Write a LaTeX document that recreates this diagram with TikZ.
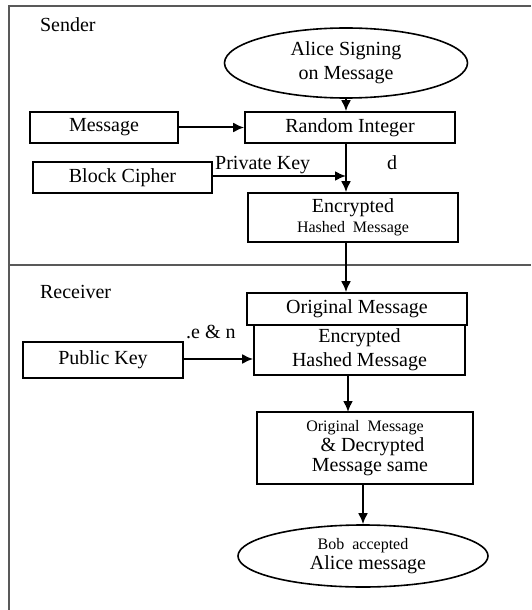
\documentclass[tikz,border=0pt]{standalone}
\usepackage{fontspec}
\setmainfont{Liberation Serif}
\usetikzlibrary{shapes.geometric,arrows.meta}

\begin{document}
\begin{tikzpicture}[x=0.5pt,y=-0.5pt,>={Latex[length=5.5pt,width=5pt]},
    box/.style={draw,line width=0.8pt,inner sep=1pt,align=center,font=\normalsize},
    oval/.style={draw,ellipse,line width=0.8pt,inner sep=0pt,align=center},
    link/.style={->,line width=1pt}]
    \useasboundingbox (0,0) rectangle (531,610);
    % frame and separator
    \draw[line width=1pt,gray!70!black] (531,6) -- (9,6) -- (9,610);
    \draw[line width=0.8pt,gray!70!black] (9,265) -- (531,265);
    \node[anchor=west] (sender) at (33,25) {Sender};
    \node[anchor=west] (receiver) at (33,292) {Receiver};
    % sender side
    \node[oval,minimum width=121.5pt,minimum height=35pt] (alice) at (346,63) {Alice Signing\\on Message};
    \node[box,minimum width=74pt,minimum height=15.5pt] (msg) at (104,127.5) {Message};
    \node[box,minimum width=105pt,minimum height=15.5pt] (rand) at (350,127.5) {Random Integer};
    \node[box,minimum width=89.5pt,minimum height=15.5pt] (cipher) at (122.5,177.5) {Block Cipher};
    \node[box,minimum width=105pt,minimum height=24.5pt] (enc) at (353,217.5) {Encrypted\\[-2pt]{\footnotesize Hashed\ \ Message}};
    \coordinate (priv) at (cipher.east |- 0,176);
    \node[anchor=south west,inner sep=1pt] (privlbl) at (priv) {Private Key};
    \node (dlbl) at (392,163) {d};
    \draw[link] (alice.south) -- (alice.south |- rand.north);
    \draw[link] (msg) -- (rand);
    \draw[link] (rand.south -| alice.south) -- (alice.south |- enc.north);
    \draw[link] (priv) -- (priv -| alice.south);
    % receiver side
    \node[box,minimum width=110pt,minimum height=16pt] (orig) at (357,309) {Original Message};
    \node[box,minimum width=105.5pt,minimum height=25pt] (ench) at (359.5,350) {Encrypted\\Hashed Message};
    \node[box,minimum width=80pt,minimum height=18pt] (pub) at (103,360) {Public Key};
    \node[anchor=south west,inner sep=1pt] (enlbl) at (pub.north east) {.e \& n};
    \node[box,minimum width=108pt,minimum height=36pt] (same) at (365,448) {{\footnotesize Original\ \ Message}\\[-2pt]\ \ \ \& Decrypted\\[-2pt]\ \ Message same};
    \node[oval,minimum width=125pt,minimum height=31pt] (bob) at (363,556) {{\footnotesize Bob\ \ accepted}\\[-2pt]\ \ Alice message};
    \draw[link] (enc.south -| alice.south) -- (alice.south |- orig.north);
    \draw[link] (pub.east |- 0,359) -- (ench.west |- 0,359);
    \draw[link] (348,375) -- (348,412);
    \draw[link] (same.south -| bob.north) -- (bob.north);
\end{tikzpicture}
\end{document}
